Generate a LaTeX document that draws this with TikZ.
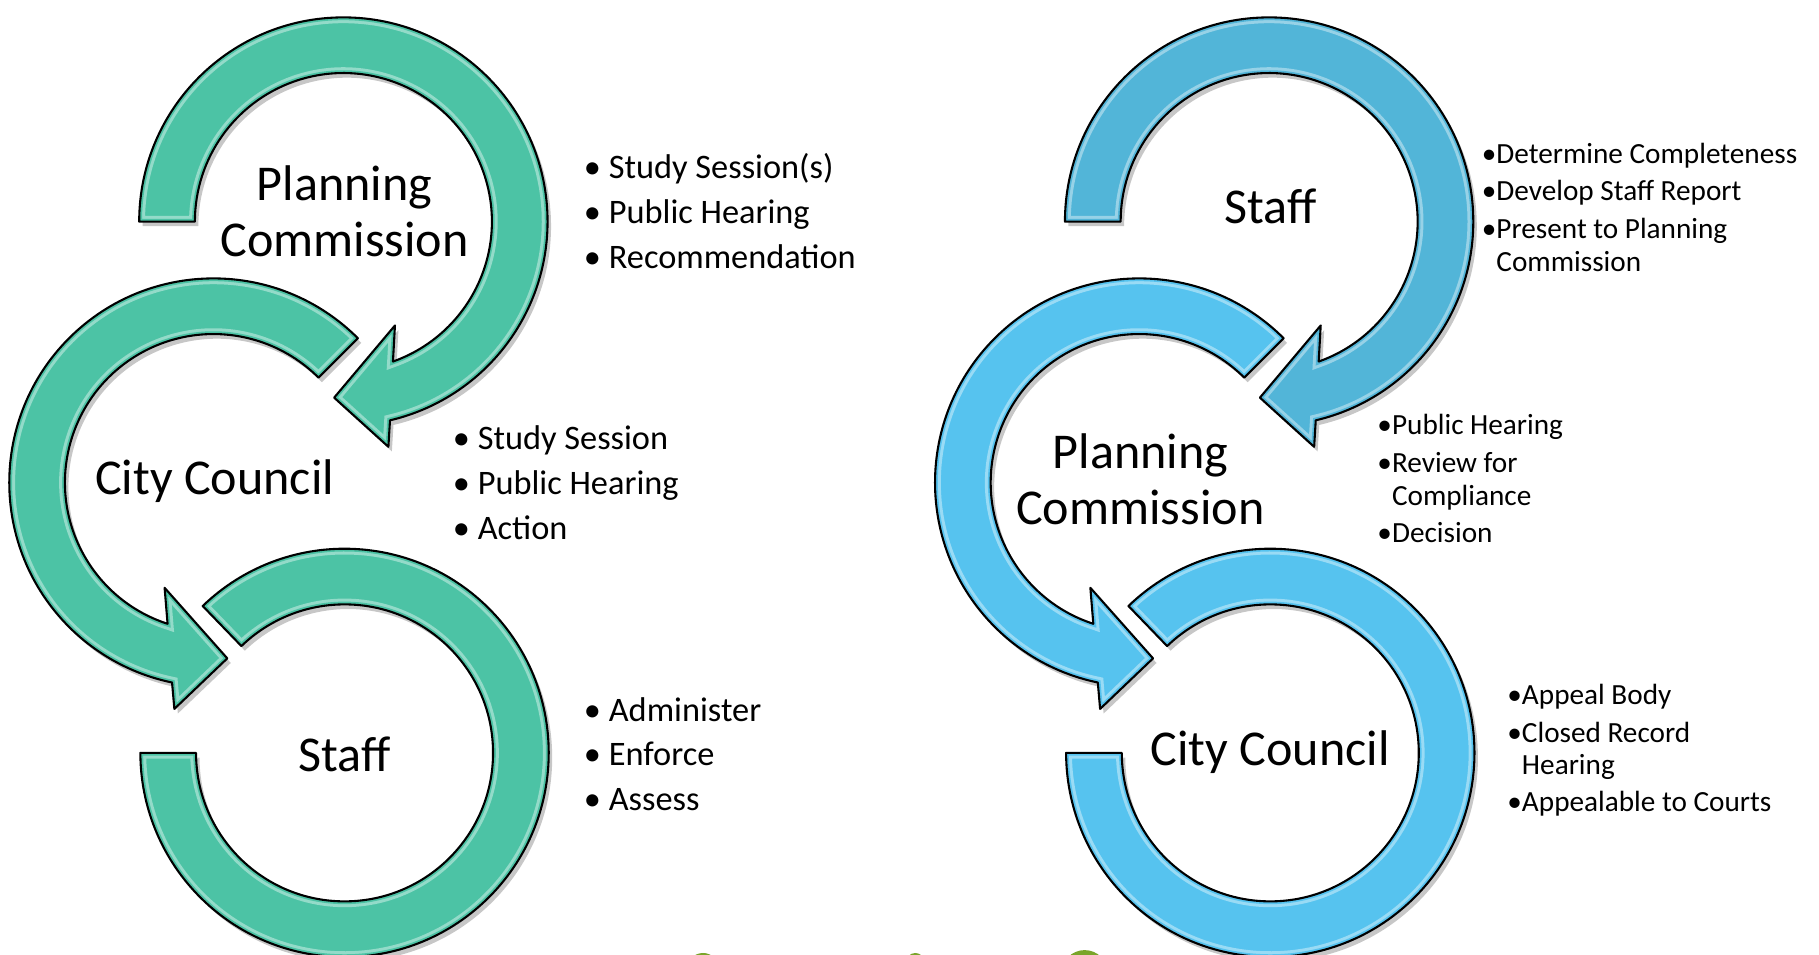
\documentclass[tikz,border=0pt]{standalone}
\usepackage{fontspec}
\setmainfont{Carlito}

\definecolor{ringgreen}{HTML}{4CC3A5}
\definecolor{ringblueA}{HTML}{52B5D8}
\definecolor{ringblueB}{HTML}{56C3EF}
\definecolor{logogreen}{HTML}{7AA52A}

% filled ring with a shadow, a light inner edge and a black outline
\newcommand{\bevelring}[2]{%
  \fill[black,opacity=.22,shift={(3,-4)}] #2;
  \begin{scope}
    \clip #2;
    \fill[fill=#1] #2;
    \draw[white,opacity=.4,line width=5pt] #2;
    \draw[draw=#1,line width=2.4pt] #2;
  \end{scope}
  \draw[line width=.9pt,line join=round] #2;
}

\begin{document}
\begin{tikzpicture}[x=0.5pt,y=0.5pt,
    ringlabel/.style={font=\fontsize{21.6}{24}\selectfont,align=center},
    greenlist/.style={font=\fontsize{14.8}{19.25}\selectfont,align=left,anchor=west,inner sep=0pt},
    bluelist/.style={font=\fontsize{12.6}{14}\selectfont,align=left,anchor=west,inner sep=0pt}]

  \useasboundingbox (0,0) rectangle (1568,823);
  \clip (0,0) rectangle (1568,823);

  % three circular arrows, green on the left and blue on the right
  \foreach \dx/\colA/\colB in {0/ringgreen/ringgreen, 798/ringblueA/ringblueB}{
    \begin{scope}[shift={(\dx,0)}]
      % top ring, clockwise
      \begin{scope}[shift={(296,632)}]
        \bevelring{\colA}{(180:176) arc[start angle=180,end angle=-76.8,radius=176] -- (-78.7:198) -- (-93:152) -- (-63.6:100) -- (-70.5:128) arc[start angle=-70.5,end angle=180,radius=128] -- cycle}
      \end{scope}
      % middle ring, counter-clockwise
      \begin{scope}[shift={(184,407)}]
        \bevelring{\colB}{(45:176) arc[start angle=45,end angle=258.3,radius=176] -- (260.2:198) -- (274.5:152) -- (245.1:100) -- (252:128) arc[start angle=252,end angle=45,radius=128] -- cycle}
      \end{scope}
      % bottom ring, no head
      \begin{scope}[shift={(297,174)}]
        \bevelring{\colB}{(134:176) arc[start angle=134,end angle=-180,radius=176] -- (-180:128) arc[start angle=-180,end angle=134,radius=128] -- cycle}
      \end{scope}
    \end{scope}
  }

  % names in the rings
  \node[ringlabel] (pc1) at (297,641) {Planning\\Commission};
  \node[ringlabel] (cc1) at (185,408) {City Council};
  \node[ringlabel] (st1) at (297,173) {Staff};
  \node[ringlabel] (st2) at (1095,645) {Staff};
  \node[ringlabel] (pc2) at (983,410) {Planning\\Commission};
  \node[ringlabel] (cc2) at (1095,175) {City Council};

  % notes beside the rings
  \node[greenlist] (pcnotes1) at (503,641) {• Study Session(s)\\• Public Hearing\\• Recommendation};
  \node[greenlist] (ccnotes1) at (390,407) {• Study Session\\• Public Hearing\\• Action};
  \node[greenlist] (stnotes1) at (503,173) {• Administer\\• Enforce\\• Assess};

  \node[bluelist] (stnotes2) at (1277,644.5) {•Determine Completeness\\[2.25pt]•Develop Staff Report\\[2.25pt]•Present to Planning\\\hphantom{•}Commission};
  \node[bluelist] (pcnotes2) at (1187,410.5) {•Public Hearing\\[2.25pt]•Review for\\\hphantom{•}Compliance\\[2pt]•Decision};
  \node[bluelist] (ccnotes2) at (1299,176) {•Appeal Body\\[2pt]•Closed Record\\\hphantom{•}Hearing\\[2pt]•Appealable to Courts};

  % edge of a logo cut off at the bottom
  \fill[logogreen] (606,-12) circle (13.5);
  \fill[logogreen] (789,-6.5) circle (8);
  \fill[logogreen] (935,-16) circle (20);
\end{tikzpicture}
\end{document}
